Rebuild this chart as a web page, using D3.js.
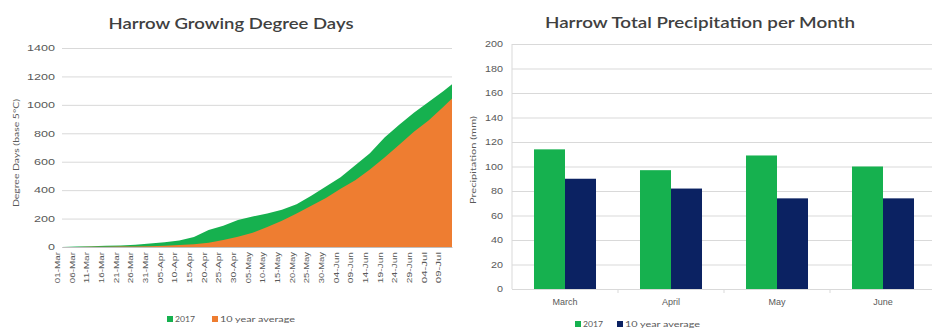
<!DOCTYPE html>
<html>
<head>
<meta charset="utf-8">
<script src="https://cdn.jsdelivr.net/npm/d3@7"></script>
<style>
  body { margin: 0; background: #fff; }
  svg { display: block; font-family: Lato, "Open Sans", sans-serif; }
  .grid line { stroke: #d9d9d9; stroke-width: 1; }
  .tick text { fill: #595959; }
</style>
</head>
<body>
<div id="chart"></div>
<script>

// Growing degree days, read every 5 days (plus last day)
let gddDates = ["2017-03-01","2017-03-06","2017-03-11","2017-03-16","2017-03-21","2017-03-26","2017-03-31",
    "2017-04-05","2017-04-10","2017-04-15","2017-04-20","2017-04-25","2017-04-30",
    "2017-05-05","2017-05-10","2017-05-15","2017-05-20","2017-05-25","2017-05-30",
    "2017-06-04","2017-06-09","2017-06-14","2017-06-19","2017-06-24","2017-06-29",
    "2017-07-04","2017-07-09","2017-07-12"];
let gdd2017 = [0,4,6,8,10,16,24,33,45,70,120,150,190,215,235,262,300,360,425,490,575,660,770,860,945,1020,1095,1145];
let gddAvg  = [0,0,1,2,3,4,6,9,14,20,30,50,72,100,140,185,235,290,345,410,470,545,630,720,810,890,985,1045];
let gddTicks = [0,200,400,600,800,1000,1200,1400];

// Precipitation per month (mm)
let months = ["March","April","May","June"];
let precip2017 = [114,97,109,100];
let precipAvg = [90,82,74,74];
let precipTicks = [0,20,40,60,80,100,120,140,160,180,200];

let seriesNames = ["2017","10 year average"];

var W = 932, H = 331;
let svg = d3.select("#chart").append("svg")
    .attr("width", W)
    .attr("height", H);

let green = "#16b14f", orange = "#ee7d31", navy = "#0b2262";
let parse = d3.timeParse("%Y-%m-%d");
let fmt = d3.timeFormat("%d-%b");

// the picture's text is a bit stretched sideways
function stretch(sel, perChar) {
    sel.attr("lengthAdjust", "spacingAndGlyphs")
        .attr("textLength", function() { return this.textContent.length * perChar; });
}

// ---------- left chart: area ----------
let L = {left: 62, right: 452, top: 48, bottom: 247};

let x = d3.scaleTime()
    .domain([parse(gddDates[0]), parse(gddDates[gddDates.length - 1])])
    .range([L.left, L.right]);
let y = d3.scaleLinear()
    .domain([0, 1400])
    .range([L.bottom, L.top]);

svg.append("g")
    .attr("class", "grid")
    .attr("transform", "translate(" + L.left + ",0)")
    .call(d3.axisLeft(y).tickValues(gddTicks).tickFormat(d3.format("d")).tickSize(-(L.right - L.left)).tickPadding(7))
    .call(g => g.select(".domain").remove())
    .call(g => g.selectAll("text").attr("font-size", "8.5px").call(stretch, 7));

let pts = gddDates.map((d, i) => ({date: parse(d), a: gdd2017[i], b: gddAvg[i]}));

let areaA = d3.area().x(d => x(d.date)).y0(y(0)).y1(d => y(d.a));
let areaB = d3.area().x(d => x(d.date)).y0(y(0)).y1(d => y(d.b));

svg.append("path").datum(pts).attr("d", areaA).attr("fill", green);
svg.append("path").datum(pts).attr("d", areaB).attr("fill", orange);

// x axis: every 5th day, up to 09-Jul
let xTicks = gddDates.slice(0, gddDates.length - 1).map(parse);
svg.append("g")
    .attr("transform", "translate(0," + L.bottom + ")")
    .call(d3.axisBottom(x).tickValues(xTicks).tickFormat(fmt).tickSize(0).tickPadding(4))
    .call(g => g.select(".domain").attr("stroke", "#bfbfbf"))
    .call(g => g.selectAll("text")
        .attr("font-size", "8px")
        .attr("transform", "rotate(-90)")
        .attr("text-anchor", "end")
        .attr("dx", "-5px")
        .attr("dy", "-0.3em")
        .attr("y", 0)
        .attr("x", 0)
        .call(stretch, 5.2));

svg.append("text")
    .attr("x", 231).attr("y", 29)
    .attr("text-anchor", "middle")
    .attr("font-size", "15.5px").attr("font-weight", 600)
    .attr("fill", "#404040")
    .attr("textLength", 245).attr("lengthAdjust", "spacingAndGlyphs")
    .text("Harrow Growing Degree Days");

svg.append("text")
    .attr("transform", "translate(19,153) rotate(-90)")
    .attr("text-anchor", "middle")
    .attr("font-size", "7.5px")
    .attr("fill", "#595959")
    .attr("textLength", 108).attr("lengthAdjust", "spacingAndGlyphs")
    .text("Degree Days (base 5°C)");

// legend left
let legL = svg.append("g").attr("transform", "translate(167,322)");
[green, orange].forEach(function(c, i) {
    let gx = i == 0 ? 0 : 45;
    legL.append("rect").attr("x", gx).attr("y", -6).attr("width", 6).attr("height", 6).attr("fill", c);
    legL.append("text").attr("x", gx + 8).attr("y", 0)
        .attr("font-size", "8px").attr("fill", "#595959")
        .call(t => t.text(seriesNames[i]))
        .call(stretch, 5);
});

// ---------- right chart: grouped bars ----------
let R = {left: 512, right: 936, top: 44, bottom: 289};

let x0 = d3.scaleBand()
    .domain(months)
    .range([R.left, R.right])
    .paddingInner(0.415)
    .paddingOuter(0.2075);
let x1 = d3.scaleBand()
    .domain(seriesNames)
    .range([0, x0.bandwidth()]);
let y2 = d3.scaleLinear()
    .domain([0, 200])
    .range([R.bottom, R.top]);

svg.append("g")
    .attr("class", "grid")
    .attr("transform", "translate(" + R.left + ",0)")
    .call(d3.axisLeft(y2).tickValues(precipTicks).tickSize(-(R.right - R.left)).tickPadding(9))
    .call(g => g.select(".domain").remove())
    .call(g => g.selectAll("text").attr("font-size", "8.5px").call(stretch, 6));

svg.append("line")
    .attr("x1", R.left).attr("x2", R.left)
    .attr("y1", R.top).attr("y2", R.bottom)
    .attr("stroke", "#d9d9d9");

let groups = svg.append("g").selectAll("g")
    .data(months.map((m, i) => ({m: m, vals: [precip2017[i], precipAvg[i]]})))
    .enter().append("g")
    .attr("transform", d => "translate(" + x0(d.m) + ",0)");

groups.selectAll("rect")
    .data(d => d.vals.map((v, i) => ({k: seriesNames[i], v: v})))
    .enter().append("rect")
    .attr("x", d => x1(d.k))
    .attr("y", d => y2(d.v))
    .attr("width", x1.bandwidth())
    .attr("height", d => y2(0) - y2(d.v))
    .attr("fill", (d, i) => i == 0 ? green : navy);

// category axis with boundary ticks
svg.append("g")
    .attr("transform", "translate(0," + R.bottom + ")")
    .call(d3.axisBottom(x0).tickSize(0).tickPadding(10))
    .call(g => g.select(".domain").attr("stroke", "#d9d9d9"))
    .call(g => g.selectAll("text").attr("font-size", "9px"));

svg.append("g").selectAll("line")
    .data(months.slice(1))
    .enter().append("line")
    .attr("x1", d => x0(d) - x0.step() * x0.paddingInner() / 2)
    .attr("x2", d => x0(d) - x0.step() * x0.paddingInner() / 2)
    .attr("y1", R.bottom).attr("y2", R.bottom + 4)
    .attr("stroke", "#d9d9d9");

svg.append("text")
    .attr("x", 700).attr("y", 28)
    .attr("text-anchor", "middle")
    .attr("font-size", "15.5px").attr("font-weight", 600)
    .attr("fill", "#404040")
    .attr("textLength", 310).attr("lengthAdjust", "spacingAndGlyphs")
    .text("Harrow Total Precipitation per Month");

svg.append("text")
    .attr("transform", "translate(476,160) rotate(-90)")
    .attr("text-anchor", "middle")
    .attr("font-size", "7.5px")
    .attr("fill", "#595959")
    .attr("textLength", 88).attr("lengthAdjust", "spacingAndGlyphs")
    .text("Precipitation (mm)");

let legR = svg.append("g").attr("transform", "translate(575,327)");
[green, navy].forEach(function(c, i) {
    let gx = i == 0 ? 0 : 42;
    legR.append("rect").attr("x", gx).attr("y", -6).attr("width", 6).attr("height", 6).attr("fill", c);
    legR.append("text").attr("x", gx + 8).attr("y", 0)
        .attr("font-size", "8px").attr("fill", "#595959")
        .call(t => t.text(seriesNames[i]))
        .call(stretch, 5);
});

</script>
</body>
</html>
